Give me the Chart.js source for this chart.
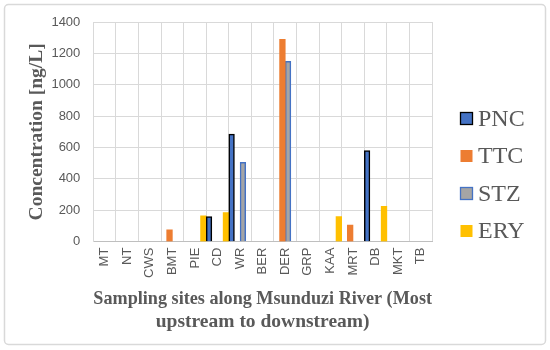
<!DOCTYPE html>
<html>
<head>
<meta charset="utf-8">
<script src="https://cdn.jsdelivr.net/npm/chart.js@4.4.0/dist/chart.umd.min.js"></script>
<style>
  html, body { margin: 0; padding: 0; background: #fff; }
  #wrap { position: relative; width: 550px; height: 350px; }
</style>
</head>
<body>
<div id="wrap"><canvas id="chart" width="550" height="350"></canvas></div>
<script>
    // sampling sites, upstream -> downstream
    const sites = ['MT', 'NT', 'CWS', 'BMT', 'PIE', 'CD', 'WR', 'BER', 'DER', 'GRP', 'KAA', 'MRT', 'DB', 'MKT', 'TB'];

    // concentrations in ng/L (null = not detected)
    const pnc = [null, null, null, null, null, 160, 685, null, null, null, null, null, 580, null, null];
    const ttc = [null, null, null, 75, null, null, null, null, 1290, null, null, 105, null, null, null];
    const stz = [null, null, null, null, null, null, 505, null, 1150, null, null, null, null, null, null];
    const ery = [null, null, null, null, 165, 185, null, null, null, null, 160, null, 225, null, null];

    const yTicks = [0, 200, 400, 600, 800, 1000, 1200, 1400];

    const serif = '"Liberation Serif", "Times New Roman", serif';
    const sans = '"Liberation Sans", Arial, sans-serif';
    const textGray = '#595959';
    const gridGray = '#d9d9d9';

    const frame = {
        id: 'frame',
        beforeDraw(chart) {
            const { ctx } = chart;
            ctx.save();
            ctx.strokeStyle = '#d9d9d9';
            ctx.lineWidth = 1.5;
            ctx.beginPath();
            ctx.roundRect(4.5, 4.5, 541, 340, 4);
            ctx.stroke();
            ctx.restore();
        }
    };

    const sideLegend = {
        id: 'sideLegend',
        afterDraw(chart) {
            const { ctx } = chart;
            ctx.save();
            ctx.font = '24px ' + serif;
            ctx.textBaseline = 'middle';
            chart.data.datasets.forEach((ds, i) => {
                const y = 118.5 + i * 37.5;
                ctx.fillStyle = ds.backgroundColor;
                ctx.fillRect(460.5, y - 6, 12, 12);
                if (ds.borderWidth) {
                    ctx.strokeStyle = ds.borderColor;
                    ctx.lineWidth = 1.3;
                    ctx.strokeRect(460.5, y - 6, 12, 12);
                }
                ctx.fillStyle = textGray;
                ctx.fillText(ds.label, 478, y + 1);
            });
            ctx.restore();
        }
    };

    const makeSet = (label, data, fill, border, width) => ({
        label, data,
        backgroundColor: fill,
        borderColor: border,
        borderWidth: width,
        categoryPercentage: 1,
        barPercentage: 1
    });

    new Chart(document.getElementById('chart'), {
        type: 'bar',
        data: {
            labels: sites,
            datasets: [
                makeSet('PNC', pnc, '#4472c4', '#000000', 1.5),
                makeSet('TTC', ttc, '#ed7d31', '#ed7d31', 0),
                makeSet('STZ', stz, '#a5a5a5', '#4472c4', 1.5),
                makeSet('ERY', ery, '#ffc000', '#ffc000', 0)
            ]
        },
        options: {
            responsive: false,
            animation: false,
            layout: { padding: { left: 15, right: 118, top: 22, bottom: 17 } },
            plugins: { legend: { display: false }, tooltip: { enabled: false } },
            scales: {
                x: {
                    grid: { color: gridGray, offset: true, drawTicks: false },
                    border: { color: '#bfbfbf' },
                    ticks: {
                        color: textGray,
                        font: { family: sans, size: 13 },
                        minRotation: 90,
                        maxRotation: 90,
                        autoSkip: false,
                        padding: 6
                    },
                    title: {
                        display: true,
                        text: ['Sampling sites along Msunduzi River (Most', 'upstream to downstream)'],
                        color: textGray,
                        font: { family: serif, size: 19.5, weight: 'bold', lineHeight: 1.18 },
                        padding: { top: 3, bottom: 0 }
                    }
                },
                y: {
                    min: 0,
                    max: 1400,
                    afterBuildTicks: (axis) => { axis.ticks = yTicks.map((v) => ({ value: v })); },
                    grid: { color: gridGray, drawTicks: false },
                    border: { color: gridGray },
                    ticks: {
                        color: textGray,
                        font: { family: sans, size: 13 },
                        padding: 13,
                        callback: (v) => String(v)
                    },
                    title: {
                        display: true,
                        text: 'Concentration [ng/L]',
                        color: textGray,
                        font: { family: serif, size: 19.5, weight: 'bold', lineHeight: 1.2 },
                        padding: { top: 10.5, bottom: -10.5 }
                    }
                }
            }
        },
        plugins: [frame, sideLegend]
    });
</script>
</body>
</html>
